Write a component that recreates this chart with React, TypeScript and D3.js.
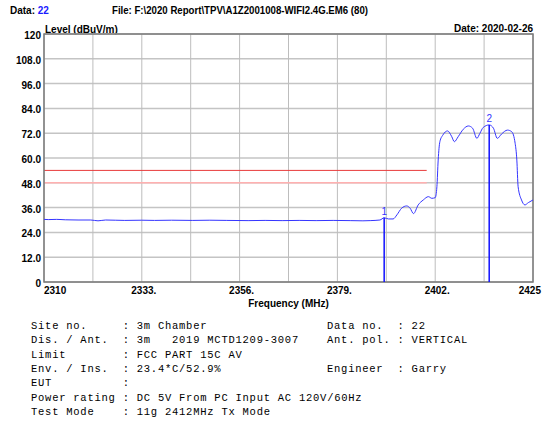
import * as d3 from "d3";

// trace (MHz, dBuV/m)
const freqs = [
  2310, 2311, 2313, 2315, 2318, 2321, 2322.7, 2324.5, 2329, 2333, 2336, 2340, 2345, 2349,
  2353, 2358, 2362, 2366, 2370, 2374, 2378, 2382, 2385, 2386.7, 2389, 2390, 2391, 2392.1,
  2393, 2394.1, 2395.3, 2396.1, 2396.9, 2398, 2399.2, 2400.4, 2401.2, 2402, 2402.4, 2402.7,
  2403.1, 2403.8, 2404.9, 2405.9, 2406.5, 2407.4, 2408.6, 2409.8, 2410.8, 2411.8, 2412.5,
  2413.3, 2414.7, 2415.7, 2416.6, 2417.6, 2419, 2420, 2420.8, 2421.2, 2421.5, 2422.3,
  2423.1, 2423.9, 2425,
];
const levels = [
  30.3, 30.2, 30.3, 30.1, 30.0, 30.0, 29.6, 30.0, 29.8, 29.9, 29.8, 29.9, 29.8, 29.9,
  29.8, 29.7, 29.8, 29.7, 29.8, 29.7, 29.8, 29.7, 29.6, 29.7, 30.0, 31.1, 30.5, 30.5,
  32.5, 35.7, 36.8, 35.7, 33.1, 37.3, 39.7, 41.3, 40.5, 40.8, 46.1, 59.0,
  67.9, 71.1, 73.1, 70.3, 67.9, 70.3, 73.9, 75.5, 74.4, 69.5, 71.9,
  74.8, 76.0, 74.4, 69.5, 71.6, 73.5, 72.7, 67.1, 59.0, 46.1, 39.7,
  37.3, 38.4, 39.7,
];

const yTicks = [0, 12, 24, 36, 48, 60, 72, 84, 96, 108, 120];
const yTickLabels = ["0", "12.0", "24.0", "36.0", "48.0", "60.0", "72.0", "84.0", "96.0", "108.0", "120"];
const xGrid = [2310, 2321.5, 2333, 2344.5, 2356, 2367.5, 2379, 2390.5, 2402, 2413.5, 2425];
const xTicks = [2310, 2333, 2356, 2379, 2402, 2425];
const xTickLabels = ["2310", "2333.", "2356.", "2379.", "2402.", "2425"];

const limitAv = 54;
const limitPk = 48;
const limitEnd = 2400;

const markerFreqs = [2390, 2414.7];
const markerLevels = [31.1, 76.0];
const markerLabels = ["1", "2"];

const infoLeft = [
  "Site no.     : 3m Chamber",
  "Dis. / Ant.  : 3m   2019 MCTD1209-3007",
  "Limit        : FCC PART 15C AV",
  "Env. / Ins.  : 23.4*C/52.9%",
  "EUT          :",
  "Power rating : DC 5V From PC Input AC 120V/60Hz",
  "Test Mode    : 11g 2412MHz Tx Mode",
];
const infoRight = ["Data no.  : 22", "Ant. pol. : VERTICAL", "", "Engineer  : Garry", "", "", ""];

const W = 547;
const H = 423;
const left = 44, right = 533, top = 34, bottom = 282;
const sans = "'Liberation Sans', Arial, sans-serif";
const mono = "'Liberation Mono', 'Courier New', monospace";

export default function App() {
  const x = d3.scaleLinear().domain([2310, 2425]).range([left, right]);
  const y = d3.scaleLinear().domain([0, 120]).range([bottom, top]);
  const pts = freqs.map((f, i) => [f, levels[i]] as [number, number]);
  const line = d3
    .line<[number, number]>()
    .x((d) => x(d[0]))
    .y((d) => y(d[1]))
    .curve(d3.curveMonotoneX);

  return (
    <svg
      width={W}
      height={H}
      style={{ position: "absolute", left: 0, top: 0, background: "#fff" }}
      fontFamily={sans}
    >
      {/* header */}
      <text x={10} y={14} fontSize={10} fontWeight="bold">
        Data: <tspan fill="#1a1aff">22</tspan>
      </text>
      <text x={112} y={14} fontSize={10} fontWeight="bold" textLength={256} lengthAdjust="spacingAndGlyphs">
        File: F:\2020 Report\TPV\A1Z2001008-WIFI2.4G.EM6  (80)
      </text>
      <text x={left + 1} y={33} fontSize={10} fontWeight="bold">
        Level (dBuV/m)
      </text>
      <text x={right} y={32} fontSize={10} fontWeight="bold" textAnchor="end">
        Date: 2020-02-26
      </text>

      {/* grid */}
      {yTicks.map((t) => (
        <line key={"gy" + t} x1={left} x2={right} y1={y(t)} y2={y(t)} stroke="#c4c4c4" strokeWidth={1.5} />
      ))}
      {xGrid.map((t) => (
        <line key={"gx" + t} x1={x(t)} x2={x(t)} y1={top} y2={bottom} stroke="#bdbdbd" strokeWidth={1} />
      ))}

      {/* limit lines */}
      <line x1={left} x2={x(limitEnd)} y1={y(limitAv)} y2={y(limitAv)} stroke="#e83a3a" strokeWidth={1} />
      <line x1={left} x2={x(limitEnd)} y1={y(limitPk)} y2={y(limitPk)} stroke="#ffb0b0" strokeWidth={1.5} />

      {/* frame */}
      <rect x={left} y={top} width={right - left} height={bottom - top} fill="none" stroke="#7a7a7a" strokeWidth={1.5} />

      {/* trace */}
      <path d={line(pts) ?? ""} fill="none" stroke="#3535ff" strokeWidth={1} />

      {/* markers */}
      {markerFreqs.map((f, i) => (
        <g key={"m" + i}>
          <line x1={x(f)} x2={x(f)} y1={bottom} y2={y(markerLevels[i])} stroke="#1010ff" strokeWidth={1.5} />
          <text x={x(f)} y={y(markerLevels[i]) - 3} fontSize={10} fill="#3535ff" textAnchor="middle">
            {markerLabels[i]}
          </text>
        </g>
      ))}

      {/* y tick labels */}
      {yTicks.map((t, i) => (
        <text key={"yl" + t} x={41} y={y(t) + 5} fontSize={10} fontWeight="bold" textAnchor="end">
          {yTickLabels[i]}
        </text>
      ))}

      {/* x tick labels */}
      {xTicks.map((t, i) => (
        <text
          key={"xl" + t}
          x={i === 0 ? left : i === xTicks.length - 1 ? 541 : x(t) + 2}
          y={294}
          fontSize={10}
          fontWeight="bold"
          textAnchor={i === 0 ? "start" : i === xTicks.length - 1 ? "end" : "middle"}
        >
          {xTickLabels[i]}
        </text>
      ))}
      <text x={(left + right) / 2} y={307} fontSize={10} fontWeight="bold" textAnchor="middle">
        Frequency (MHz)
      </text>

      {/* info block */}
      {infoLeft.map((s, i) => (
        <text key={"il" + i} x={31} y={329 + i * 14.3} fontFamily={mono} fontSize={10.5} letterSpacing={0.75} style={{ whiteSpace: "pre" }}>
          {s}
        </text>
      ))}
      {infoRight.map((s, i) =>
        s ? (
          <text key={"ir" + i} x={327} y={329 + i * 14.3} fontFamily={mono} fontSize={10.5} letterSpacing={0.75} style={{ whiteSpace: "pre" }}>
            {s}
          </text>
        ) : null
      )}
    </svg>
  );
}
